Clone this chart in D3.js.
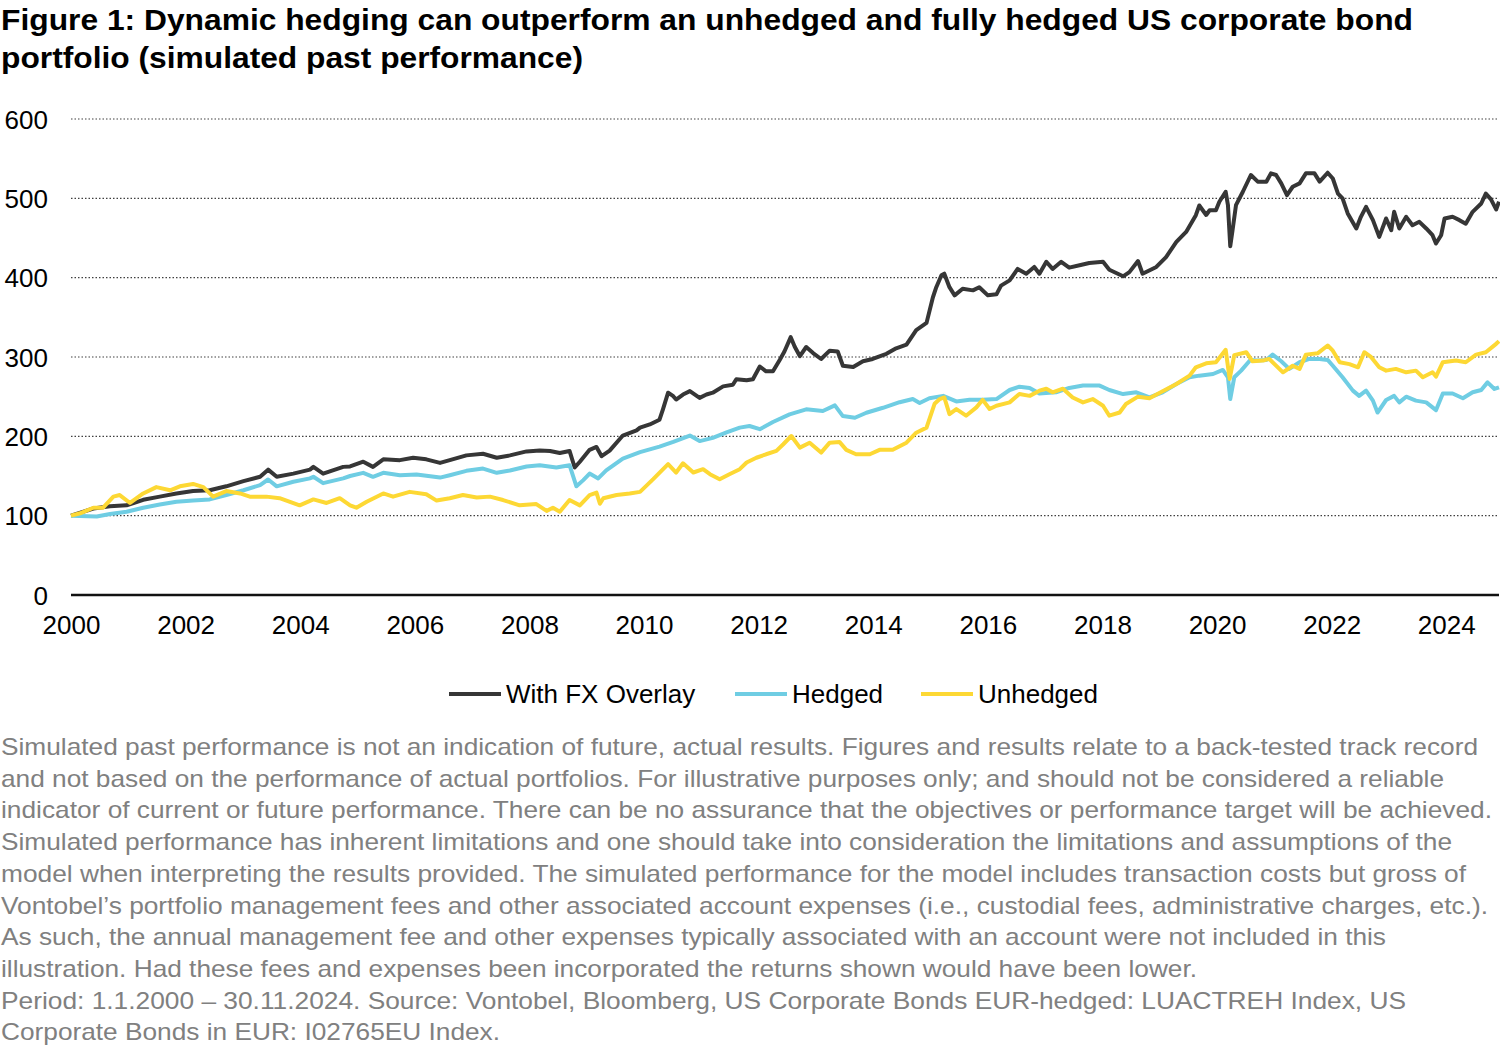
<!DOCTYPE html>
<html>
<head>
<meta charset="utf-8">
<script src="https://cdn.jsdelivr.net/npm/d3@7"></script>
<style>
  html, body { margin: 0; padding: 0; background: #fff; }
  svg text { font-family: "Liberation Sans", Arial, sans-serif; }
</style>
</head>
<body>
<div id="chart"></div>
<script>
// values, [decimal year, index level]
const fxOverlay = [
  [2000.00,100],[2000.39,109],[2000.68,112],[2000.97,113],[2001.26,120],[2001.55,124],[2001.84,128],
  [2002.13,131],[2002.42,132],[2002.71,137],[2003.01,143.5],[2003.30,149],[2003.44,158],[2003.59,149],
  [2003.88,153],[2004.17,158],[2004.23,161.5],[2004.40,153],[2004.75,161.5],[2004.87,162],[2005.10,168],
  [2005.27,161.5],[2005.45,171],[2005.74,170],[2005.97,173],[2006.20,171],[2006.44,166.5],[2006.61,170],
  [2006.90,176],[2007.19,178],[2007.43,173],[2007.66,176],[2007.95,181],[2008.18,182],[2008.36,181.6],
  [2008.53,179],[2008.70,181.6],[2008.79,160.7],[2008.88,168],[2009.05,183],[2009.17,186.6],[2009.26,175],
  [2009.40,182],[2009.63,201],[2009.87,207.5],[2009.93,211],[2010.10,215],[2010.27,221],[2010.33,234],
  [2010.42,255],[2010.51,250.6],[2010.56,246.4],[2010.68,252.7],[2010.80,257],[2010.97,248.5],[2011.09,252.7],
  [2011.20,255],[2011.38,263],[2011.55,265],[2011.61,272],[2011.79,270.7],[2011.90,272],[2012.02,288],
  [2012.13,282],[2012.25,282],[2012.37,296.6],[2012.45,307],[2012.56,325],[2012.63,313],[2012.72,301],
  [2012.83,312.6],[2012.95,305],[2013.09,297.5],[2013.24,308],[2013.38,307],[2013.47,289],[2013.65,287.4],
  [2013.82,294.6],[2013.99,297.5],[2014.23,304],[2014.40,311],[2014.58,315.5],[2014.75,334],[2014.93,343],
  [2015.04,375],[2015.10,388],[2015.19,403],[2015.24,405],[2015.33,388],[2015.42,377.7],[2015.56,386],
  [2015.74,384],[2015.85,388],[2016.00,377.7],[2016.15,379],[2016.23,390],[2016.38,396.6],[2016.52,411],
  [2016.67,405],[2016.81,413.5],[2016.90,405],[2017.02,420],[2017.13,411],[2017.28,420],[2017.42,412.6],
  [2017.60,415.6],[2017.77,418.5],[2018.01,420],[2018.12,410],[2018.36,401.7],[2018.47,407],[2018.62,421],
  [2018.70,405],[2018.94,413.5],[2019.11,426],[2019.29,445],[2019.46,457.7],[2019.63,478.8],[2019.69,491],
  [2019.81,479],[2019.87,485],[2019.98,485],[2020.04,495.7],[2020.15,508.3],[2020.19,491.4],[2020.23,439.6],
  [2020.27,459.8],[2020.33,491.4],[2020.45,508.3],[2020.59,529.4],[2020.71,521],[2020.86,521],[2020.94,531.5],
  [2021.03,529.4],[2021.12,518.8],[2021.22,504],[2021.32,514.6],[2021.44,518.8],[2021.55,531.5],[2021.70,531.5],
  [2021.79,521],[2021.93,532.3],[2022.02,525],[2022.11,506],[2022.19,500],[2022.28,481],[2022.43,462],
  [2022.51,476.7],[2022.60,489.3],[2022.72,472.5],[2022.83,451.4],[2022.95,474.6],[2023.04,459.8],[2023.09,483],
  [2023.18,462],[2023.30,476.7],[2023.41,466],[2023.53,470.4],[2023.65,462],[2023.76,453.5],[2023.82,443],
  [2023.91,453.5],[2023.97,474.6],[2024.11,476.7],[2024.23,472.5],[2024.34,468],[2024.46,483],[2024.61,493.5],
  [2024.69,506],[2024.78,498.6],[2024.87,486],[2024.92,495.7]
];

const hedged = [
  [2000.00,100],[2000.45,99],[2000.68,102],[2000.97,105],[2001.26,110],[2001.55,114],[2001.84,117.6],
  [2002.13,119],[2002.42,120.5],[2002.71,126],[2003.01,132],[2003.30,138.5],[2003.44,145.6],[2003.59,137],
  [2003.88,142.7],[2004.17,147],[2004.23,149],[2004.40,141],[2004.75,147],[2004.87,150],[2005.10,154],
  [2005.27,149],[2005.45,154],[2005.74,151],[2006.03,152],[2006.44,148],[2006.61,151],[2006.90,156.5],
  [2007.19,159.4],[2007.43,154],[2007.66,157],[2007.95,162],[2008.18,163.6],[2008.47,160.7],[2008.70,163.6],
  [2008.82,137],[2008.94,144.8],[2009.05,153],[2009.20,147],[2009.34,157],[2009.63,172],[2009.93,180],
  [2010.27,187],[2010.51,193],[2010.80,201],[2010.97,194],[2011.20,198],[2011.44,205],[2011.67,211],
  [2011.84,213],[2012.02,209],[2012.25,218],[2012.54,227.6],[2012.83,234],[2013.12,232],[2013.33,239],
  [2013.47,225.5],[2013.68,223.4],[2013.88,229.7],[2014.17,236],[2014.46,243],[2014.69,247],[2014.81,242],
  [2014.98,248],[2015.22,251],[2015.45,244],[2015.68,246],[2015.91,246],[2016.15,247],[2016.38,258.4],
  [2016.55,262.6],[2016.73,261],[2016.90,254],[2017.19,255.5],[2017.42,261],[2017.66,264],[2017.95,264],
  [2018.12,258.4],[2018.36,253.3],[2018.59,255.5],[2018.82,249],[2019.05,255.5],[2019.29,266],[2019.52,274.4],
  [2019.69,276.5],[2019.93,278.6],[2020.10,283.7],[2020.19,274.4],[2020.23,247],[2020.30,274.4],[2020.42,282.8],
  [2020.58,296.3],[2020.71,295.5],[2020.86,296.3],[2020.97,303],[2021.12,294.6],[2021.26,285],[2021.44,293.4],
  [2021.61,297.6],[2021.79,297.6],[2021.93,296.3],[2022.02,289],[2022.19,274.4],[2022.37,257.6],[2022.48,251],
  [2022.60,257.6],[2022.72,245],[2022.80,230],[2022.95,245.8],[2023.09,251],[2023.18,242.8],[2023.30,250],
  [2023.47,245],[2023.65,242.8],[2023.76,236.5],[2023.82,233],[2023.94,254],[2024.11,254],[2024.29,248],
  [2024.46,255.5],[2024.61,258.4],[2024.72,268],[2024.84,259.7],[2024.92,261.8]
];

const unhedged = [
  [2000.00,100],[2000.16,103],[2000.39,110],[2000.56,110],[2000.74,124],[2000.85,126],[2001.03,116],
  [2001.26,128],[2001.49,136],[2001.73,132],[2001.90,137],[2002.13,140],[2002.31,136],[2002.48,124],
  [2002.71,131],[2002.95,128],[2003.12,124],[2003.41,124],[2003.64,122],[2003.99,113],[2004.23,120.5],
  [2004.46,116],[2004.69,122],[2004.87,113],[2004.98,110],[2005.16,117.6],[2005.45,128],[2005.62,124],
  [2005.91,130],[2006.20,127],[2006.38,119],[2006.61,122],[2006.84,126],[2007.08,123],[2007.31,124],
  [2007.54,119.7],[2007.83,113],[2008.12,114.6],[2008.30,106],[2008.41,110],[2008.53,105],[2008.70,119.7],
  [2008.88,113],[2009.05,126],[2009.17,129],[2009.23,115],[2009.29,122],[2009.52,126],[2009.75,128],
  [2009.93,130],[2010.16,146],[2010.42,165],[2010.56,154.4],[2010.68,166],[2010.86,154.4],[2011.03,158.6],
  [2011.15,152.3],[2011.32,146],[2011.49,152.3],[2011.67,158.6],[2011.79,167],[2011.96,173],[2012.13,177.4],
  [2012.31,181.6],[2012.43,190],[2012.57,200.4],[2012.72,185.8],[2012.89,192],[2013.09,179.5],[2013.24,192],
  [2013.41,193],[2013.53,183],[2013.70,177.4],[2013.94,177.4],[2014.11,183],[2014.34,183],[2014.58,192],
  [2014.75,204.6],[2014.93,211],[2015.07,241],[2015.16,247],[2015.24,249],[2015.33,228],[2015.45,234.4],
  [2015.62,226],[2015.80,236.5],[2015.91,246],[2016.03,234.4],[2016.15,238.6],[2016.38,242.8],[2016.55,253.3],
  [2016.73,251],[2016.90,257.6],[2017.02,260],[2017.13,255.5],[2017.31,260],[2017.48,249],[2017.66,242.8],
  [2017.83,247],[2018.01,238.6],[2018.12,226],[2018.30,230],[2018.41,240.7],[2018.62,250],[2018.82,248],
  [2019.05,256.7],[2019.29,266],[2019.52,276.5],[2019.63,287],[2019.81,292],[2019.98,293.4],[2020.15,309],
  [2020.22,272.3],[2020.30,302.3],[2020.51,306],[2020.62,294.6],[2020.80,295.5],[2020.91,297.6],[2021.15,280.7],
  [2021.32,289],[2021.44,285],[2021.55,303],[2021.76,304.8],[2021.93,314.5],[2022.02,308],[2022.14,293.4],
  [2022.31,291],[2022.46,287],[2022.57,306],[2022.69,299.7],[2022.83,287],[2022.95,282.8],[2023.12,285],
  [2023.30,280.7],[2023.47,282.8],[2023.59,274.4],[2023.76,280.7],[2023.82,275.3],[2023.94,293.4],[2024.17,295.5],
  [2024.34,293.4],[2024.52,303],[2024.69,306],[2024.87,316.6],[2024.92,320]
];

const seriesNames = ["With FX Overlay", "Hedged", "Unhedged"];
const yearTicks = [2000, 2002, 2004, 2006, 2008, 2010, 2012, 2014, 2016, 2018, 2020, 2022, 2024];
const valueTicks = [0, 100, 200, 300, 400, 500, 600];

const titleLines = [
  "Figure 1: Dynamic hedging can outperform an unhedged and fully hedged US corporate bond",
  "portfolio (simulated past performance)"
];
const titleEnds = [1413, 583];
const noteLines = [
  "Simulated past performance is not an indication of future, actual results. Figures and results relate to a back-tested track record",
  "and not based on the performance of actual portfolios. For illustrative purposes only; and should not be considered a reliable",
  "indicator of current or future performance. There can be no assurance that the objectives or performance target will be achieved.",
  "Simulated performance has inherent limitations and one should take into consideration the limitations and assumptions of the",
  "model when interpreting the results provided. The simulated performance for the model includes transaction costs but gross of",
  "Vontobel\u2019s portfolio management fees and other associated account expenses (i.e., custodial fees, administrative charges, etc.).",
  "As such, the annual management fee and other expenses typically associated with an account were not included in this",
  "illustration. Had these fees and expenses been incorporated the returns shown would have been lower.",
  "Period: 1.1.2000 \u2013 30.11.2024. Source: Vontobel, Bloomberg, US Corporate Bonds EUR-hedged: LUACTREH Index, US",
  "Corporate Bonds in EUR: I02765EU Index."
];
// right edge of each footnote line in the reference, used to fit spacing
const noteEnds = [1478, 1444, 1492, 1452, 1466, 1488, 1386, 1197, 1406, 500];

const width = 1500, height = 1050;
const colors = ["#363636", "#6fcde3", "#fdd834"];

let svg = d3.select("#chart").append("svg")
  .attr("width", width)
  .attr("height", height);

let x = d3.scaleLinear().domain([2000, 2024.92]).range([71, 1499]);
let y = d3.scaleLinear().domain([0, 600]).range([595, 119]);

// title
svg.append("g").selectAll("text")
  .data(titleLines)
  .enter().append("text")
    .attr("x", 1)
    .attr("y", (d, i) => 30 + i * 38)
    .attr("textLength", (d, i) => titleEnds[i] - 1)
    .attr("lengthAdjust", "spacingAndGlyphs")
    .style("font-size", "29px")
    .style("font-weight", "bold")
    .style("fill", "#000")
    .text(d => d);

// dotted gridlines
svg.append("g").selectAll("line")
  .data(valueTicks.filter(v => v > 0))
  .enter().append("line")
    .attr("x1", x(2000)).attr("x2", x(2024.92))
    .attr("y1", d => y(d)).attr("y2", d => y(d))
    .style("stroke", "#404040")
    .style("stroke-width", 1.2)
    .style("stroke-dasharray", "1.5,2");

// y axis labels
let yAxis = d3.axisLeft(y).tickValues(valueTicks).tickSize(0).tickPadding(0);
svg.append("g")
  .attr("transform", "translate(48,0)")
  .call(yAxis)
  .call(g => g.select(".domain").remove())
  .selectAll("text")
    .style("font-size", "26px")
    .style("fill", "#000")
    .attr("dy", "0.35em");

// x axis
let xAxis = d3.axisBottom(x).tickValues(yearTicks).tickFormat(d3.format("d")).tickSize(0).tickPadding(0);
svg.append("g")
  .attr("transform", "translate(0,616)")
  .call(xAxis)
  .call(g => g.select(".domain").remove())
  .selectAll("text")
    .style("font-size", "26px")
    .style("fill", "#000")
    .attr("dy", "0.71em");

svg.append("line")
  .attr("x1", x(2000)).attr("x2", x(2024.92))
  .attr("y1", y(0)).attr("y2", y(0))
  .style("stroke", "#111")
  .style("stroke-width", 2.5);

// the three series
let line = d3.line()
  .x(d => x(d[0]))
  .y(d => y(d[1]));

[fxOverlay, hedged, unhedged].forEach((series, i) => {
  svg.append("path")
    .datum(series)
    .attr("d", line)
    .style("fill", "none")
    .style("stroke", colors[i])
    .style("stroke-width", 4)
    .style("stroke-linejoin", "round");
});

// legend
let legendX = [449, 735, 921];
let legend = svg.append("g").selectAll("g")
  .data(seriesNames)
  .enter().append("g")
    .attr("transform", (d, i) => `translate(${legendX[i]},694)`);

legend.append("line")
  .attr("x1", 0).attr("x2", 52)
  .style("stroke", (d, i) => colors[i])
  .style("stroke-width", 4);

legend.append("text")
  .attr("x", 57)
  .attr("dy", "0.35em")
  .style("font-size", "26px")
  .style("fill", "#000")
  .text(d => d);

// footnote
svg.append("g").selectAll("text")
  .data(noteLines)
  .enter().append("text")
    .attr("x", 1)
    .attr("y", (d, i) => 755 + i * 31.7)
    .attr("textLength", (d, i) => noteEnds[i] - 1)
    .attr("lengthAdjust", "spacingAndGlyphs")
    .style("font-size", "24px")
    .style("fill", "#808080")
    .text(d => d);
</script>
</body>
</html>
